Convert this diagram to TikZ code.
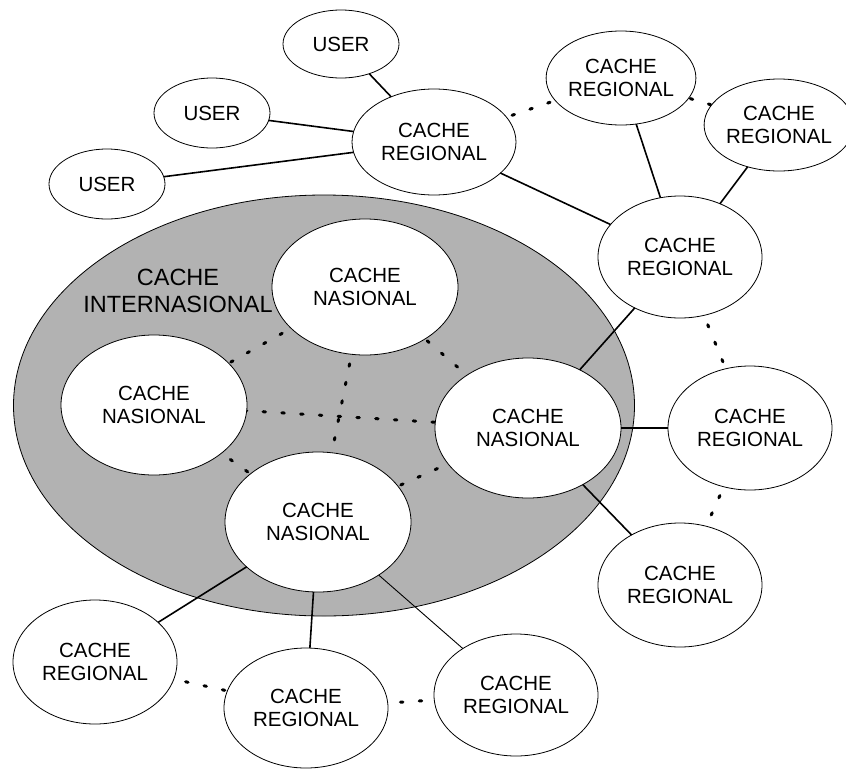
\documentclass[tikz,border=0pt]{standalone}
\usepackage{fontspec}
\setmainfont{Liberation Sans}
\usetikzlibrary{shapes.geometric}
\definecolor{biggray}{RGB}{178,178,178}
\begin{document}
\begin{tikzpicture}[x=1pt,y=-1pt,
  cnode/.style={ellipse, draw=black, line width=0.8pt, fill=white, inner sep=0pt, outer sep=0pt, align=center,
    font=\fontsize{20.5}{23.5}\selectfont},
  solidlink/.style={line width=1.6pt},
  thinlink/.style={line width=0.9pt},
  dotlink/.style={line width=3pt, line cap=round, dash pattern=on 2.5pt off 16.3pt}
]
\useasboundingbox (0,0) rectangle (846,769);
% international cache region
\node[ellipse, draw=black, line width=0.8pt, fill=biggray, minimum width=621pt, minimum height=421pt, inner sep=0pt] (intl) at (324,405.5) {};
\node[align=center, font=\fontsize{23.5}{27}\selectfont, inner sep=0pt] (intllabel) at (178,291) {CACHE\\INTERNASIONAL};
% node anchors for the dotted links (drawn underneath the caches)
\coordinate (p0) at (434,142);
\coordinate (p1) at (621,78);
\coordinate (p2) at (779,125);
\coordinate (p3) at (680,257);
\coordinate (p4) at (750,428);
\coordinate (p5) at (680,585);
\coordinate (p6) at (95,662);
\coordinate (p7) at (306,708);
\coordinate (p8) at (516,695);
\coordinate (q1) at (365,287);
\coordinate (q2) at (154,405);
\coordinate (q3) at (528,428);
\coordinate (q4) at (318,522);
% dotted links
\draw[dotlink, dash phase=11.45pt] (p0) -- (p1);
\draw[dotlink, dash phase=2.85pt] (p1) -- (p2);
\draw[dotlink, dash phase=2.05pt] (p3) -- (p4);
\draw[dotlink, dash phase=1.25pt] (p4) -- (p5);
\draw[dotlink, dash phase=1.25pt] (p6) -- (p7);
\draw[dotlink, dash phase=18.15pt] (p7) -- (p8);
\draw[dotlink, dash phase=17.95pt] (q1) -- (q2);
\draw[dotlink, dash phase=11.75pt] (q1) -- (q3);
\draw[dotlink, dash phase=15.65pt] (q1) -- (q4);
\draw[dotlink, dash phase=3.55pt] (q2) -- (q3);
\draw[dotlink, dash phase=0.25pt] (q2) -- (q4);
\draw[dotlink, dash phase=13.55pt] (q3) -- (q4);
% users
\node[cnode, minimum width=116pt, minimum height=68pt] (u1) at (341,44) {USER};
\node[cnode, minimum width=116pt, minimum height=70pt] (u2) at (212,113) {USER};
\node[cnode, minimum width=116pt, minimum height=70pt] (u3) at (107,184) {USER};
% regional caches
\node[cnode, minimum width=164pt, minimum height=106pt] (cr0) at (p0) {CACHE\\REGIONAL};
\node[cnode, minimum width=144pt, minimum height=94pt] (cr1) at (p1) {CACHE\\REGIONAL};
\node[cnode, minimum width=134pt, minimum height=92pt] (cr2) at (p2) {CACHE\\REGIONAL};
\node[cnode, minimum width=164pt, minimum height=122pt] (cr3) at (p3) {CACHE\\REGIONAL};
\node[cnode, minimum width=164pt, minimum height=124pt] (cr4) at (p4) {CACHE\\REGIONAL};
\node[cnode, minimum width=164pt, minimum height=124pt] (cr5) at (p5) {CACHE\\REGIONAL};
\node[cnode, minimum width=164pt, minimum height=124pt] (cr6) at (p6) {CACHE\\REGIONAL};
\node[cnode, minimum width=164pt, minimum height=120pt] (cr7) at (p7) {CACHE\\REGIONAL};
\node[cnode, minimum width=164pt, minimum height=122pt] (cr8) at (p8) {CACHE\\REGIONAL};
% national caches
\node[cnode, minimum width=186pt, minimum height=136pt] (cn1) at (q1) {CACHE\\NASIONAL};
\node[cnode, minimum width=186pt, minimum height=140pt] (cn2) at (q2) {CACHE\\NASIONAL};
\node[cnode, minimum width=186pt, minimum height=140pt] (cn3) at (q3) {CACHE\\NASIONAL};
\node[cnode, minimum width=186pt, minimum height=140pt] (cn4) at (q4) {CACHE\\NASIONAL};
% solid links
\draw[solidlink] (u1) -- (cr0);
\draw[solidlink] (u2) -- (cr0);
\draw[solidlink] (u3) -- (cr0);
\draw[solidlink] (cr0) -- (cr3);
\draw[solidlink] (cr1) -- (cr3);
\draw[solidlink] (cr2) -- (cr3);
\draw[solidlink] (cr3) -- (cn3);
\draw[solidlink] (cn3) -- (cr4);
\draw[solidlink] (cn3) -- (cr5);
\draw[solidlink] (cn4) -- (cr6);
\draw[solidlink] (cn4) -- (cr7);
\draw[thinlink] (cn4) -- (cr8);
\end{tikzpicture}
\end{document}
